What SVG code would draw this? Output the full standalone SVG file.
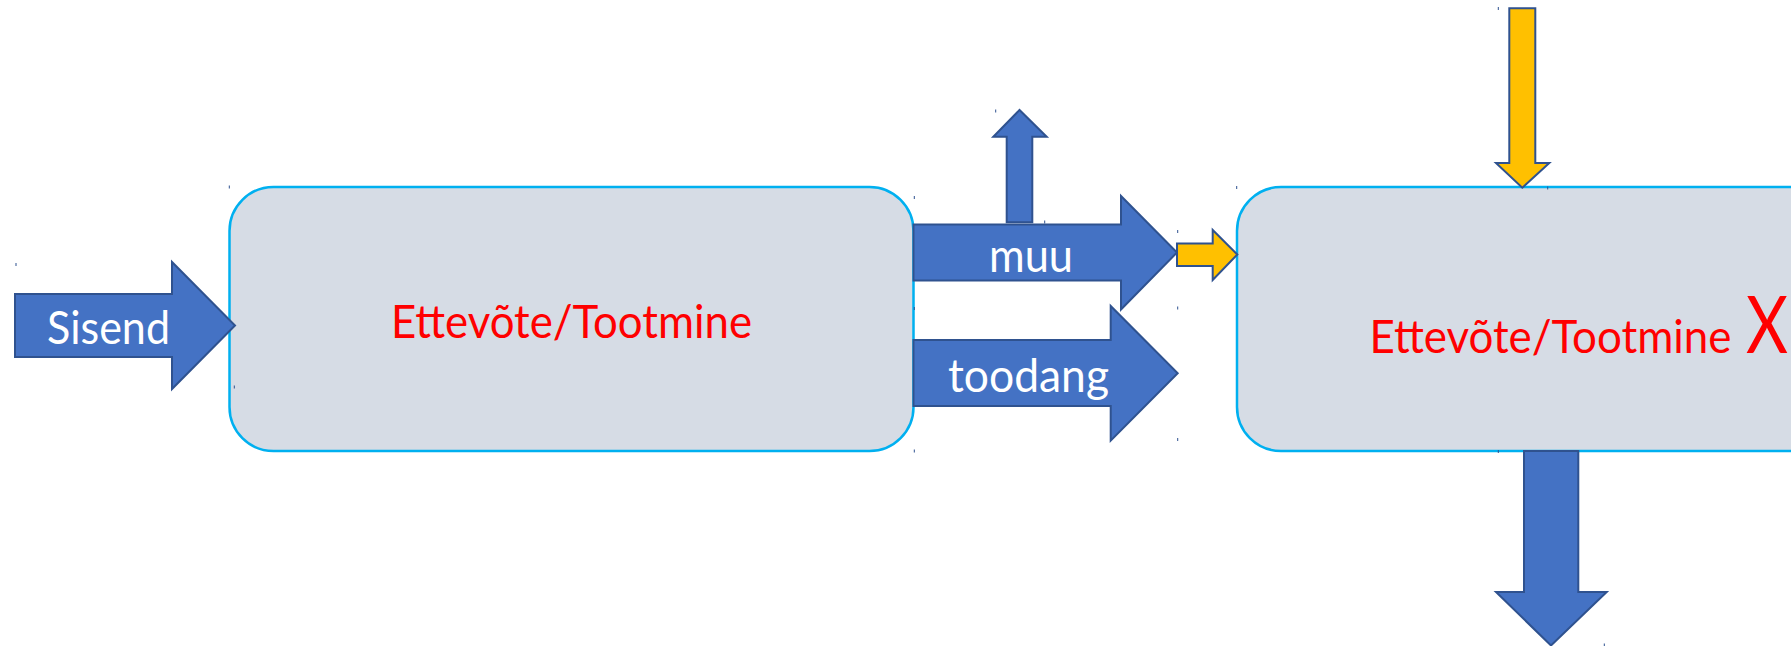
<svg xmlns="http://www.w3.org/2000/svg" width="1791" height="646" viewBox="0 0 1791 646">
<style>
.box{fill:#D6DCE5;stroke:#00B0F0;stroke-width:2.5}
.blue{fill:#4472C4;stroke:#2F528F;stroke-width:2;stroke-linejoin:miter}
.yel{fill:#FFC000;stroke:#2F528F;stroke-width:2;stroke-linejoin:miter}
.lbl{font-family:Lato,"Open Sans","Liberation Sans",sans-serif;font-size:46px;fill:#FFFFFF}
.red{font-family:Lato,"Open Sans","Liberation Sans",sans-serif;font-size:46px;fill:#FF0000}
.speck{fill:#2F528F}
</style>
<rect width="1791" height="646" fill="#FFFFFF"/>
<g id="node-ettevote1">
<rect class="box" x="229.5" y="187" width="684" height="264" rx="44" ry="44"/>
<text class="red" x="391" y="338" textLength="361" lengthAdjust="spacingAndGlyphs">Ettevõte/Tootmine</text>
</g>
<g id="node-ettevote2">
<rect class="box" x="1237" y="187" width="684" height="264" rx="44" ry="44"/>
<text class="red" x="1369.5" y="353" textLength="362" lengthAdjust="spacingAndGlyphs">Ettevõte/Tootmine</text>
<text class="red" x="1746" y="353" font-size="80" style="font-size:80px" textLength="42" lengthAdjust="spacingAndGlyphs">X</text>
</g>
<g id="connectors">
<g id="arrow-sisend">
<polygon class="blue" points="15,294 172,294 172,262 235,325.5 172,389 172,357 15,357"/>
<text class="lbl" x="47" y="344" textLength="123" lengthAdjust="spacingAndGlyphs">Sisend</text>
</g>
<g id="arrow-muu">
<polygon class="blue" points="913.5,224.5 1121,224.5 1121,196 1177,252.5 1121,309.5 1121,280.5 913.5,280.5"/>
<text class="lbl" x="989" y="272" textLength="84" lengthAdjust="spacingAndGlyphs">muu</text>
</g>
<g id="arrow-up">
<polygon class="blue" points="1006.7,222.3 1006.7,136.7 993.3,136.7 1019.5,110 1046.7,136.7 1032.3,136.7 1032.3,222.3"/>
</g>
<g id="arrow-toodang">
<polygon class="blue" points="913.5,340 1110.7,340 1110.7,306 1177.7,373.3 1110.7,440.7 1110.7,406 913.5,406"/>
<text class="lbl" x="948" y="392" textLength="161" lengthAdjust="spacingAndGlyphs">toodang</text>
</g>
<g id="arrow-yellow-right">
<polygon class="yel" points="1177,243.5 1212.7,243.5 1212.7,230 1237.3,254.5 1212.7,280 1212.7,266 1177,266"/>
</g>
<g id="arrow-yellow-down">
<polygon class="yel" points="1509.3,8.3 1535.3,8.3 1535.3,163 1549.3,163 1522.3,187.7 1496,163 1509.3,163"/>
</g>
<g id="arrow-blue-down">
<polygon class="blue" points="1524,451 1578.3,451 1578.3,592 1606.7,592 1551,645.5 1496,592 1524,592"/>
</g>
</g>
<g id="specks">
<rect class="speck" x="15.5" y="263" width="1" height="3"/>
<rect class="speck" x="228.8" y="185.5" width="1" height="3"/>
<rect class="speck" x="233.8" y="385.5" width="1" height="3"/>
<rect class="speck" x="995.2" y="109.5" width="1" height="3"/>
<rect class="speck" x="913.8" y="196" width="1" height="3"/>
<rect class="speck" x="1044.2" y="220.5" width="1" height="3"/>
<rect class="speck" x="1177.2" y="230" width="1" height="3"/>
<rect class="speck" x="1177.2" y="306.5" width="1" height="3"/>
<rect class="speck" x="1177.2" y="438" width="1" height="3"/>
<rect class="speck" x="913.8" y="307" width="1" height="3"/>
<rect class="speck" x="913.8" y="449.5" width="1" height="3"/>
<rect class="speck" x="1236.2" y="186" width="1" height="3"/>
<rect class="speck" x="1497.8" y="7" width="1" height="3"/>
<rect class="speck" x="1547.2" y="186.5" width="1" height="3"/>
<rect class="speck" x="1497.8" y="450" width="1" height="3"/>
<rect class="speck" x="1603.8" y="643.5" width="1" height="3"/>
</g>
</svg>
